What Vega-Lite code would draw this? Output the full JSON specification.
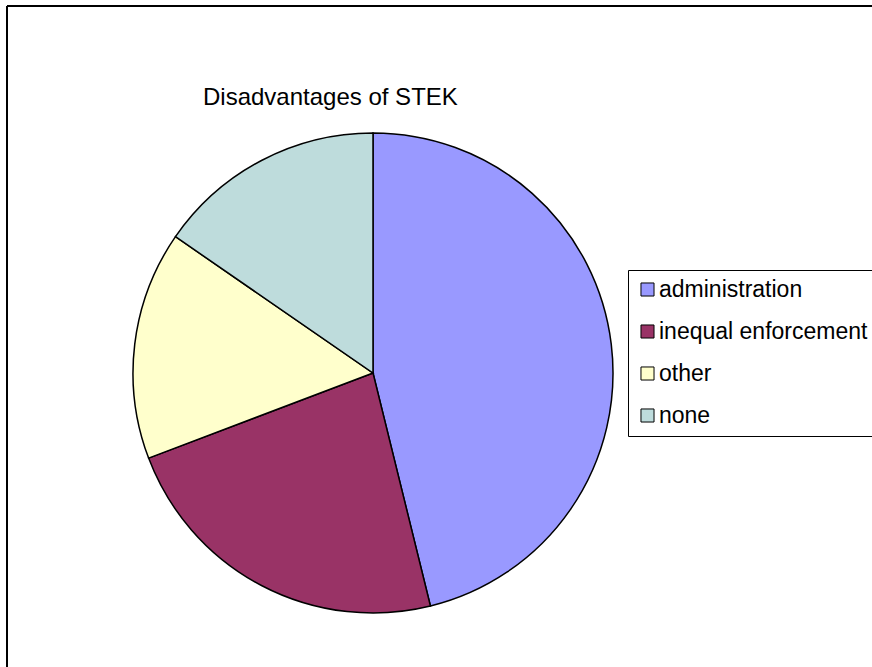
{
  "$schema": "https://vega.github.io/schema/vega-lite/v6.json",
  "width": 1600,
  "height": 1400,
  "padding": {"left": 7, "top": 6, "right": 0, "bottom": 0},
  "autosize": {"type": "pad"},
  "background": "white",
  "view": {"stroke": "black", "strokeWidth": 2, "fill": "white", "strokeDash": [1600, 3000, 1400, 0]},
  "title": {
    "text": "Disadvantages of STEK",
    "font": "Liberation Sans",
    "fontSize": 24,
    "fontWeight": "normal",
    "color": "black",
    "anchor": "start",
    "frame": "group",
    "dx": 196,
    "offset": -123,
    "baseline": "alphabetic"
  },
  "data": {
    "values": [
      {"reason": "administration", "count": 6, "rank": 1},
      {"reason": "inequal enforcement", "count": 3, "rank": 2},
      {"reason": "other", "count": 2, "rank": 3},
      {"reason": "none", "count": 2, "rank": 4}
    ]
  },
  "mark": {"type": "arc", "outerRadius": 240, "x": 366, "y": 367, "stroke": "black", "strokeWidth": 1.5},
  "encoding": {
    "theta": {"field": "count", "type": "quantitative", "stack": true},
    "order": {"field": "rank", "type": "quantitative"},
    "color": {
      "field": "reason",
      "type": "nominal",
      "sort": ["administration", "inequal enforcement", "other", "none"],
      "scale": {
        "domain": ["administration", "inequal enforcement", "other", "none"],
        "range": ["#9999FF", "#993366", "#FFFFCC", "#BEDCDC"]
      },
      "legend": {
        "orient": "none",
        "legendX": 621,
        "legendY": 264,
        "title": null,
        "strokeColor": "black",
        "padding": 8,
        "symbolType": "square",
        "symbolSize": 170,
        "symbolStrokeColor": "black",
        "symbolStrokeWidth": 1,
        "symbolOpacity": 1,
        "labelFont": "Liberation Sans",
        "labelFontSize": 23,
        "labelColor": "black",
        "labelOffset": 0,
        "labelLimit": 400,
        "rowPadding": 18
      }
    }
  }
}
